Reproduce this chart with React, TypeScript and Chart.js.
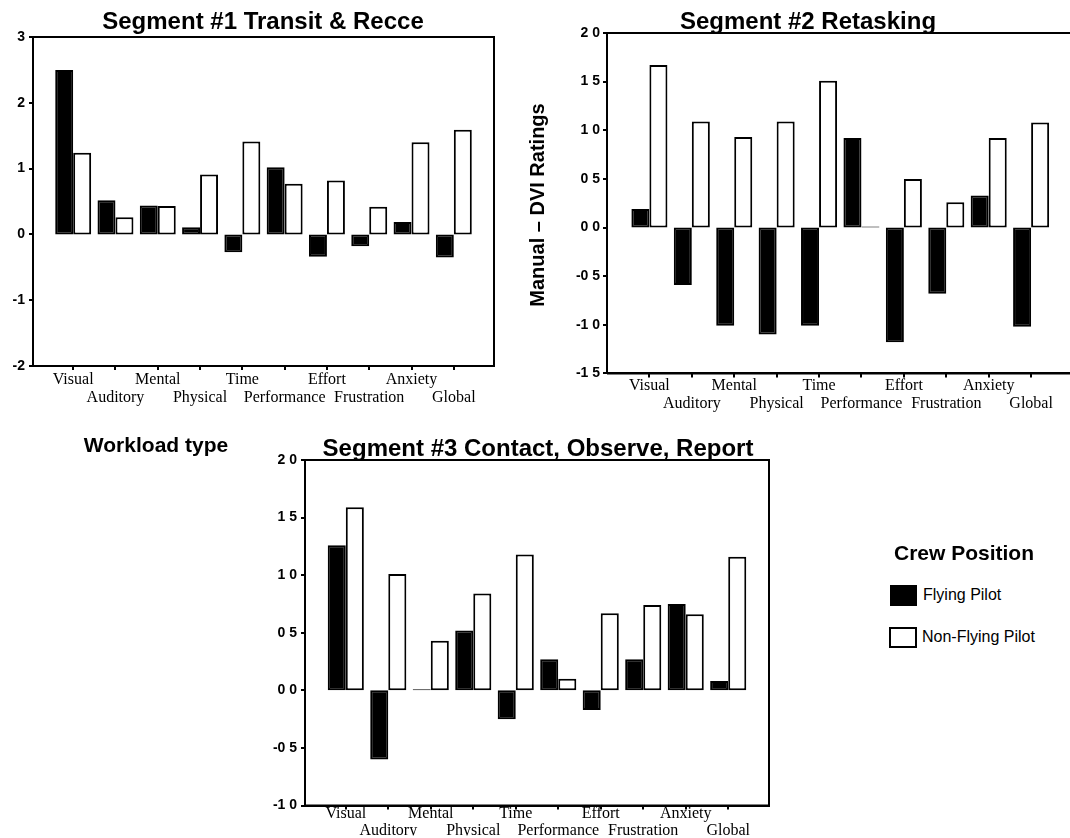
import React, { useEffect, useRef } from 'react';
import { Chart, registerables } from 'chart.js';

Chart.register(...registerables);

// ---------- data ----------
const categories = ['Visual', 'Auditory', 'Mental', 'Physical', 'Time', 'Performance', 'Effort', 'Frustration', 'Anxiety', 'Global'];
const seriesNames = ['Flying Pilot', 'Non-Flying Pilot'];

const seg1Flying = [2.5, 0.52, 0.44, 0.11, -0.27, 1.02, -0.34, -0.18, 0.19, -0.35];
const seg1NonFlying = [1.24, 0.26, 0.43, 0.91, 1.41, 0.77, 0.82, 0.42, 1.4, 1.59];

const seg2Flying = [0.19, -0.59, -1.01, -1.1, -1.01, 0.92, -1.18, -0.68, 0.33, -1.02];
const seg2NonFlying = [1.67, 1.09, 0.93, 1.09, 1.51, 0.01, 0.5, 0.26, 0.92, 1.08];

const seg3Flying = [1.26, -0.6, 0.01, 0.52, -0.25, 0.27, -0.17, 0.27, 0.75, 0.08];
const seg3NonFlying = [1.59, 1.01, 0.43, 0.84, 1.18, 0.1, 0.67, 0.74, 0.66, 1.16];

const seg1YTicks = [-2, -1, 0, 1, 2, 3];
const seg1YLabels = ['-2', '-1', '0', '1', '2', '3'];
const seg2YTicks = [-1.5, -1, -0.5, 0, 0.5, 1, 1.5, 2];
const seg2YLabels = ['-1 5', '-1 0', '-0 5', '0 0', '0 5', '1 0', '1 5', '2 0'];
const seg3YTicks = [-1, -0.5, 0, 0.5, 1, 1.5, 2];
const seg3YLabels = ['-1 0', '-0 5', '0 0', '0 5', '1 0', '1 5', '2 0'];

const titles = ['Segment #1 Transit & Recce', 'Segment #2 Retasking', 'Segment #3 Contact, Observe, Report'];

// ---------- layout ----------
type PanelCfg = {
  flying: number[];
  nonFlying: number[];
  yTicks: number[];
  yLabels: string[];
  left: number; top: number; width: number; height: number;
  yAxisWidth: number; xAxisHeight: number;
  padTop: number; padRight: number; padBottom: number;
  xMin: number; xMax: number; yLabelPad: number; xLabelPad: number;
};

const TICK = 4;

const panels: PanelCfg[] = [
  {
    flying: seg1Flying, nonFlying: seg1NonFlying, yTicks: seg1YTicks, yLabels: seg1YLabels,
    left: 0, top: 0, width: 520, height: 420,
    yAxisWidth: 33, xAxisHeight: 50, padTop: 37, padRight: 26, padBottom: 4,
    xMin: -0.95, xMax: 9.95, yLabelPad: 4, xLabelPad: 1,
  },
  {
    flying: seg2Flying, nonFlying: seg2NonFlying, yTicks: seg2YTicks, yLabels: seg2YLabels,
    left: 540, top: 0, width: 540, height: 420,
    yAxisWidth: 67, xAxisHeight: 40, padTop: 33, padRight: 8.6, padBottom: 6.6,
    xMin: -1.0, xMax: 9.95, yLabelPad: 3, xLabelPad: 0,
  },
  {
    flying: seg3Flying, nonFlying: seg3NonFlying, yTicks: seg3YTicks, yLabels: seg3YLabels,
    left: 240, top: 420, width: 560, height: 420,
    yAxisWidth: 65, xAxisHeight: 30, padTop: 40, padRight: 31, padBottom: 4.5,
    xMin: -0.96, xMax: 9.96, yLabelPad: 4, xLabelPad: -5,
  },
];

const framePlugin = {
  id: 'frame',
  afterDraw(chart: any) {
    const { ctx, chartArea } = chart;
    const { left, top, right, bottom } = chartArea;
    ctx.save();
    ctx.strokeStyle = '#000';
    ctx.lineWidth = 2;
    ctx.beginPath();
    ctx.moveTo(left, bottom);
    ctx.lineTo(left, top);
    ctx.lineTo(right, top);
    ctx.lineTo(right, bottom);
    ctx.lineTo(left, bottom);
    ctx.stroke();
    // y tick marks, outside the left axis
    const ys = chart.scales.y;
    ctx.beginPath();
    ys.ticks.forEach((t: any) => {
      const py = Math.round(ys.getPixelForValue(t.value));
      ctx.moveTo(left - TICK, py);
      ctx.lineTo(left, py);
    });
    ctx.stroke();
    ctx.restore();
  },
};

function Panel({ cfg }: { cfg: PanelCfg }) {
  const ref = useRef<HTMLCanvasElement>(null);
  useEffect(() => {
    if (!ref.current) return;
    const chart = new Chart(ref.current, {
      type: 'bar',
      data: {
        datasets: [
          {
            label: seriesNames[0],
            data: cfg.flying.map((v, i) => ({ x: i, y: v })),
            backgroundColor: '#000',
            borderColor: '#000',
            borderWidth: 2,
            borderSkipped: false,
          },
          {
            label: seriesNames[1],
            data: cfg.nonFlying.map((v, i) => ({ x: i, y: v })),
            backgroundColor: '#fff',
            borderColor: '#000',
            borderWidth: 2,
            borderSkipped: false,
          },
        ],
      } as any,
      options: {
        animation: false,
        responsive: false,
        events: [],
        categoryPercentage: 0.85,
        barPercentage: 1,
        layout: { padding: { left: 0, top: cfg.padTop, right: cfg.padRight, bottom: cfg.padBottom } },
        plugins: { legend: { display: false }, title: { display: false }, tooltip: { enabled: false } },
        scales: {
          x: {
            type: 'linear',
            offset: false,
            min: cfg.xMin,
            max: cfg.xMax,
            afterBuildTicks: (s: any) => { s.ticks = categories.map((_, i) => ({ value: i })); },
            afterFit: (s: any) => { s.height = cfg.xAxisHeight; },
            grid: { display: true, offset: false, drawOnChartArea: false, drawTicks: true, tickLength: TICK, color: '#000', lineWidth: 2 },
            border: { display: true, color: '#000', width: 2 },
            ticks: {
              autoSkip: false,
              maxRotation: 0,
              minRotation: 0,
              padding: cfg.xLabelPad,
              color: '#000',
              font: { family: 'Liberation Serif', size: 16, lineHeight: 1.1 },
              callback: (_v: any, i: number) => (i % 2 === 0 ? categories[i] : ['', categories[i]]),
            },
          },
          y: {
            type: 'linear',
            min: cfg.yTicks[0],
            max: cfg.yTicks[cfg.yTicks.length - 1],
            afterBuildTicks: (s: any) => { s.ticks = cfg.yTicks.map((v) => ({ value: v })); },
            afterFit: (s: any) => { s.width = cfg.yAxisWidth; },
            grid: { display: false, drawTicks: false, drawOnChartArea: false },
            border: { display: true, color: '#000', width: 2 },
            ticks: {
              padding: cfg.yLabelPad + TICK,
              color: '#000',
              font: { family: 'Liberation Sans', size: 14, weight: 'bold' },
              callback: (_v: any, i: number) => cfg.yLabels[i],
            },
          },
        },
      } as any,
      plugins: [framePlugin],
    });
    return () => chart.destroy();
  }, [cfg]);
  return (
    <canvas
      ref={ref}
      width={cfg.width}
      height={cfg.height}
      style={{ position: 'absolute', left: cfg.left, top: cfg.top, width: cfg.width, height: cfg.height }}
    />
  );
}

const sans = "'Liberation Sans', Arial, sans-serif";

function CenteredText({ text, cx, baseline, size, weight }: { text: string; cx: number; baseline: number; size: number; weight?: string }) {
  return (
    <div
      style={{
        position: 'absolute',
        left: cx - 300,
        width: 600,
        top: baseline - 0.8465 * size,
        textAlign: 'center',
        fontFamily: sans,
        fontSize: size,
        fontWeight: weight || 'bold',
        lineHeight: `${size}px`,
        whiteSpace: 'nowrap',
        color: '#000',
      }}
    >
      {text}
    </div>
  );
}

export default function App() {
  return (
    <div
      style={{
        position: 'absolute',
        left: 0,
        top: 0,
        width: 1070,
        height: 838,
        overflow: 'hidden',
        background: '#fff',
      }}
    >
      {panels.map((p, i) => (
        <Panel key={i} cfg={p} />
      ))}
      <CenteredText text={titles[0]} cx={263} baseline={29.5} size={24} />
      <CenteredText text={titles[1]} cx={808} baseline={29.5} size={24} />
      <CenteredText text={titles[2]} cx={538} baseline={456.5} size={24} />
      <CenteredText text="Workload type" cx={156} baseline={452} size={21} />
      <div
        style={{
          position: 'absolute',
          left: 537 - 140,
          top: 205 - 10,
          width: 280,
          height: 20,
          lineHeight: '20px',
          fontSize: 20,
          fontFamily: sans,
          fontWeight: 'bold',
          textAlign: 'center',
          whiteSpace: 'nowrap',
          transform: 'rotate(-90deg)',
          color: '#000',
        }}
      >
        Manual – DVI Ratings
      </div>
      <CenteredText text="Crew Position" cx={964} baseline={560} size={21} />
      <div style={{ position: 'absolute', left: 890, top: 585, width: 27, height: 21, background: '#000', boxSizing: 'border-box', border: '2px solid #000' }} />
      <div style={{ position: 'absolute', left: 923, top: 601 - 0.8465 * 16, fontFamily: sans, fontSize: 16, lineHeight: '16px', whiteSpace: 'nowrap', color: '#000' }}>
        {seriesNames[0]}
      </div>
      <div style={{ position: 'absolute', left: 889, top: 627, width: 28, height: 21, background: '#fff', boxSizing: 'border-box', border: '2px solid #000' }} />
      <div style={{ position: 'absolute', left: 922, top: 643 - 0.8465 * 16, fontFamily: sans, fontSize: 16, lineHeight: '16px', whiteSpace: 'nowrap', color: '#000' }}>
        {seriesNames[1]}
      </div>
    </div>
  );
}
